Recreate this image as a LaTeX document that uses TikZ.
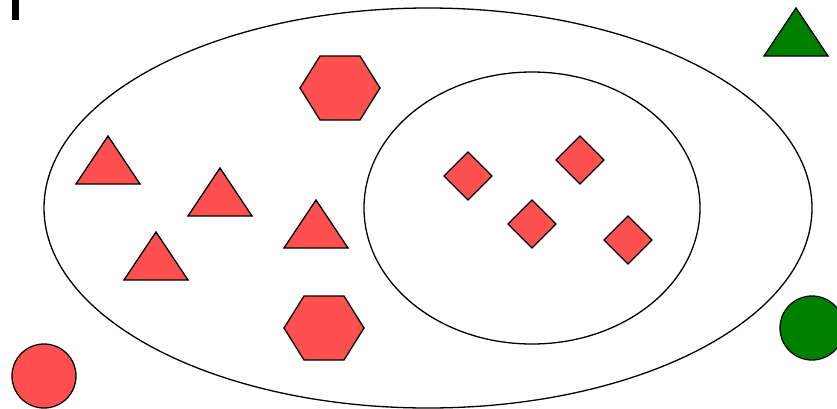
\documentclass[tikz,border=0pt]{standalone}
\usepackage{tikz}
\definecolor{shapered}{HTML}{FF5050}
\definecolor{shapegreen}{HTML}{008000}

\begin{document}
\begin{tikzpicture}[x=1pt,y=-1pt,
  setline/.style={draw=black,line width=1.3pt},
  redshape/.style={draw=black,fill=shapered,line width=1.3pt,line join=miter},
  greenshape/.style={draw=black,fill=shapegreen,line width=1.3pt}]
  \useasboundingbox (0,0) rectangle (837,408);
  % sets
  \draw[setline] (428,208) ellipse [x radius=384,y radius=200];
  \draw[setline] (532,208) ellipse [x radius=168,y radius=136];
  % mark in the corner
  \fill[black] (12,0) rectangle (19,20);
  % triangles (apex)
  \foreach \x/\y in {108/136,220/168,156/232,316/200}
    \draw[redshape] (\x,\y) -- ++(32,48) -- ++(-64,0) -- cycle;
  % hexagons (centre)
  \foreach \x/\y in {340/88,324/328}
    \draw[redshape] (\x,\y) ++(-40,0) -- ++(20,-32) -- ++(40,0) -- ++(20,32) -- ++(-20,32) -- ++(-40,0) -- cycle;
  % diamonds (centre)
  \foreach \x/\y in {468/176,580/160,532/224,628/240}
    \draw[redshape] (\x,\y) ++(-24,0) -- ++(24,-24) -- ++(24,24) -- ++(-24,24) -- cycle;
  % outside the sets
  \draw[redshape] (44,376) circle [radius=32];
  \draw[greenshape] (812,328) circle [radius=32];
  \draw[greenshape] (796,8) -- ++(32,48) -- ++(-64,0) -- cycle;
\end{tikzpicture}
\end{document}
